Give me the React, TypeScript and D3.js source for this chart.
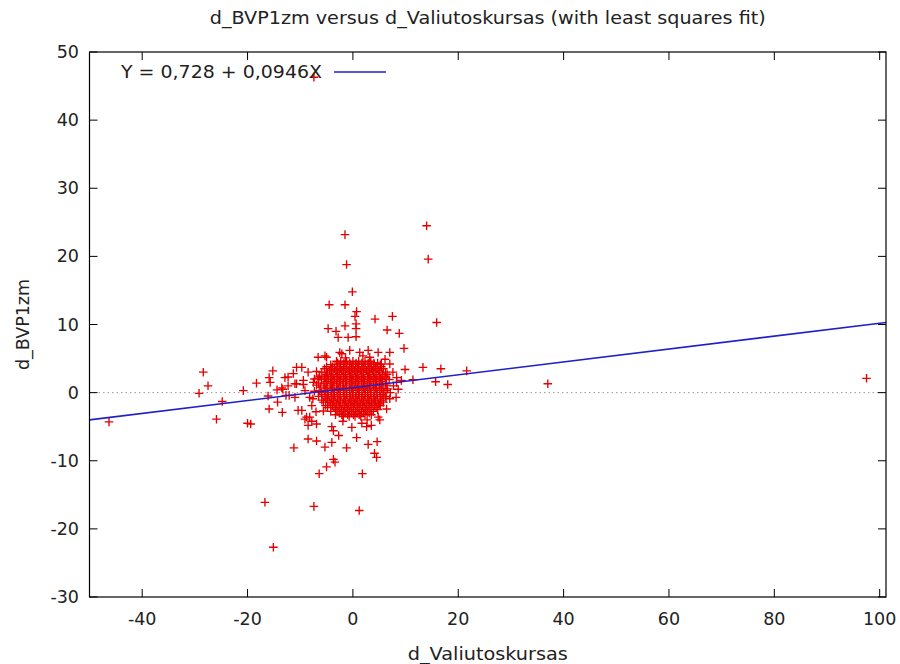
import React from "react";
import * as d3 from "d3";

const title = "d_BVP1zm versus d_Valiutoskursas (with least squares fit)";
const xLabel = "d_Valiutoskursas";
const yLabel = "d_BVP1zm";
const legendText = "Y = 0,728 + 0,0946X";
const fitIntercept = 0.728;
const fitSlope = 0.0946;
const xTicks = [-40, -20, 0, 20, 40, 60, 80, 100];
const yTicks = [-30, -20, -10, 0, 10, 20, 30, 40, 50];
const xDomain = [-50, 101.2];
const yDomain = [-30, 50];

// scattered observations (x, y)
const outerPoints: [number, number][] = [
  [-7.4, 46.3], [-1.5, 23.2], [-1.2, 18.8], [14.0, 24.5], [14.3, 19.6], [-0.1, 14.8],
  [-4.5, 12.9], [-1.5, 12.9], [0.7, 11.9], [0.4, 11.2], [0.6, 10.1], [4.2, 10.8],
  [7.5, 11.2], [15.9, 10.3], [-4.7, 9.4], [-3.2, 9.0], [-1.5, 9.8], [0.6, 9.4],
  [6.5, 9.2], [8.8, 8.7], [-2.8, 8.1], [-0.9, 8.1], [0.6, 8.2], [7.0, 5.9],
  [9.7, 6.5], [9.9, 3.4], [13.3, 3.7], [16.7, 3.5], [21.6, 3.2], [15.7, 1.6],
  [18.0, 1.2], [11.4, 1.9], [8.2, -0.7], [37.0, 1.3], [97.5, 2.1], [-46.3, -4.3],
  [-28.4, 3.0], [-27.5, 1.0], [-29.2, -0.1], [-24.8, -1.3], [-25.9, -3.9], [-20.8, 0.3],
  [-20.0, -4.5], [-18.3, 1.4], [-15.9, 2.2], [-15.7, 1.5], [-15.2, 3.2], [-16.1, -0.5],
  [-15.9, -2.4], [-14.4, 0.4], [-13.4, -2.9], [-14.3, -1.4], [-13.5, 0.7], [-12.3, 2.3],
  [-11.3, 2.8], [-10.7, 3.7], [-12.7, -0.4], [-12.1, -0.4], [-11.2, -8.1], [-10.4, -2.6],
  [-11.0, 1.3], [-16.7, -16.1], [-15.1, -22.7], [-7.4, -16.7], [1.2, -17.3], [-6.4, -11.9],
  [-5.0, -10.9], [-3.7, -9.8], [-3.4, -10.2], [1.8, -11.9], [-1.2, -8.1], [-4.0, -7.3],
  [-8.5, -6.8], [-6.9, -7.1], [2.9, -7.6], [4.6, -7.2], [4.1, -8.9], [4.5, -9.5],
  [0.7, -6.6], [-2.7, -6.3], [-4.0, -5.0], [-8.5, -4.8], [-9.1, -3.9], [-0.2, -5.1],
  [2.6, -5.0], [3.5, -4.8], [5.1, -4.0], [-9.7, -2.6], [-8.2, -3.6], [-5.3, -8.0],
  [-3.7, -5.6], [1.7, -4.5], [4.8, -3.6], [-7.8, -4.2], [-8.8, -3.6], [-6.9, -4.6],
  [-19.4, -4.6], [-9.4, 1.2], [8.3, 1.5], [9.2, 1.8], [4.8, 5.9], [2.9, 6.2],
  [1.3, 5.9], [-0.6, 6.2], [-2.1, 5.7], [-5.3, 5.4], [-6.6, 5.2], [-8.5, 3.0],
  [-9.7, 3.7], [-12.9, 2.2], [-12.3, 1.0], [-10.7, 1.3], [-9.4, 1.8], [-7.5, 1.5],
  [-9.1, 0.3], [-11.0, -0.7], [-8.2, -0.7], [-7.8, -1.9], [-13.3, 0.5], [7.6, 3.0],
  [7.0, 4.2], [8.3, 2.2], [8.6, 0.5], [7.0, -0.9], [5.1, -1.9], [-5.0, 5.2],
  [-2.5, 5.9], [3.2, 5.2], [5.4, 4.2], [-6.9, 3.1], [-7.3, 0.2], [-7.0, -2.8],
  [7.7, 1.0], [-7.3, 2.0], [6.1, 4.9], [-5.6, -2.7], [1.9, 5.4], [-1.4, 5.1],
  [6.4, -2.4], [-7.6, -0.9], [2.7, -4.0], [-1.9, -4.2],
];

// dense central cluster, row by row: [y, x1, x2, ...]
const coreRows: number[][] = [
  [4.6, -3.1, -2.3, -1.2, 0.0, 1.1, 2.3, 3.4],
  [4.35, -2.9, -1.7, -0.6, 0.6, 1.7, 2.9, 4.0, 4.7],
  [4.1, -4.2, -3.0, -1.8, -0.6, 0.5, 1.7, 2.9, 4.0, 5.2],
  [3.8, -5.0, -3.9, -2.6, -1.5, -0.3, 0.9, 2.0, 3.2, 4.3, 5.4],
  [3.5, -5.4, -4.1, -3.5, -2.4, -1.2, 0.0, 1.1, 2.3, 3.5, 4.6, 5.8],
  [3.25, -4.4, -3.2, -2.1, -0.9, 0.3, 1.4, 2.6, 3.7, 4.9],
  [3.0, -5.9, -4.8, -3.0, -1.8, -0.6, 0.6, 1.7, 2.9, 4.0, 5.1, 6.2],
  [2.7, -5.0, -3.8, -2.6, -1.4, -0.2, 0.9, 2.0, 3.2, 4.4, 5.6, 6.5],
  [2.4, -6.3, -5.2, -4.1, -2.9, -1.7, -0.5, 0.5, 1.6, 2.8, 3.9, 5.0, 6.1],
  [2.15, -6.6, -5.4, -4.2, -3.0, -1.8, -0.6, 0.6, 1.7, 2.9, 4.0, 5.2, 6.3],
  [1.9, -6.0, -4.7, -3.5, -2.3, -1.2, 0.0, 1.1, 2.2, 3.4, 4.5, 5.6, 6.9],
  [1.65, -5.0, -3.8, -2.6, -1.4, -0.3, 0.8, 2.0, 3.1, 4.3, 5.4],
  [1.4, -6.5, -5.3, -4.1, -3.0, -1.8, -0.6, 0.5, 1.7, 2.8, 3.9, 5.0, 6.2],
  [1.1, -6.9, -5.5, -4.3, -3.1, -1.9, -0.7, 0.4, 1.6, 2.7, 3.9, 5.1, 6.4],
  [0.8, -6.1, -4.9, -3.6, -2.4, -1.2, 0.0, 1.1, 2.3, 3.4, 4.5, 5.7],
  [0.55, -5.1, -3.9, -2.7, -1.5, -0.3, 0.9, 2.0, 3.1, 4.3, 5.4, 6.6],
  [0.3, -6.4, -5.3, -4.1, -3.0, -1.8, -0.6, 0.6, 1.7, 2.8, 4.0, 5.1, 6.3],
  [0.0, -6.0, -4.8, -3.6, -2.4, -1.2, 0.0, 1.2, 2.3, 3.4, 4.6, 5.9, 7.1],
  [-0.3, -5.9, -4.7, -3.5, -2.4, -1.2, 0.0, 1.1, 2.3, 3.4, 4.6, 5.7],
  [-0.55, -6.5, -5.3, -4.1, -2.9, -1.7, -0.6, 0.5, 1.7, 2.8, 4.0, 5.2, 6.2],
  [-0.8, -5.1, -4.0, -2.9, -1.7, -0.5, 0.6, 1.7, 2.9, 4.0, 5.2, 6.3],
  [-1.1, -5.9, -4.8, -3.7, -2.6, -1.4, -0.2, 0.9, 2.0, 3.2, 4.3, 5.5],
  [-1.4, -5.6, -4.5, -3.4, -2.3, -1.1, 0.1, 1.2, 2.3, 3.5, 4.6, 5.8],
  [-1.65, -4.2, -3.1, -1.9, -0.8, 0.3, 1.5, 2.6, 3.8, 4.9],
  [-1.9, -5.2, -3.9, -2.8, -1.6, -0.5, 0.6, 1.8, 2.9, 4.1, 5.2],
  [-2.2, -4.8, -3.6, -2.5, -1.3, -0.2, 0.9, 2.1, 3.2, 4.4],
  [-2.5, -3.3, -2.2, -1.0, 0.1, 1.2, 2.4, 3.5, 4.7],
  [-2.75, -4.2, -3.0, -1.8, -0.7, 0.5, 1.6, 2.7, 3.9],
  [-3.0, -2.6, -1.5, -0.3, 0.8, 2.0, 3.1],
  [-3.25, -3.3, -2.1, -1.0, 0.1, 1.2, 2.3, 3.5],
  [-3.5, -1.8, -0.7, 0.4, 1.5],
];

const W = 900;
const H = 664;
const M = { left: 89.5, right: 886, top: 52, bottom: 597 };
const FONT = "'DejaVu Sans', sans-serif";
const FS = 17.5;

export default function App() {
  const x = d3.scaleLinear().domain(xDomain).range([M.left, M.right]);
  const y = d3.scaleLinear().domain(yDomain).range([M.bottom, M.top]);

  const corePoints: [number, number][] = [];
  coreRows.forEach((row) => {
    const yy = row[0];
    row.slice(1).forEach((xx) => corePoints.push([xx, yy]));
  });
  const points = [...corePoints, ...outerPoints];

  const fitLine = d3
    .line<number>()
    .x((d) => x(d))
    .y((d) => y(fitIntercept + fitSlope * d));

  const tickLen = 8;
  const s = 4.3;

  return (
    <svg width={W} height={H} style={{ position: "absolute", left: 0, top: 0, background: "#fff" }}>
      <rect x={0} y={0} width={W} height={H} fill="#fff" />
      <text x={(M.left + M.right) / 2} y={24} textAnchor="middle" fontFamily={FONT} fontSize={FS} fill="#222"
        textLength={556} lengthAdjust="spacingAndGlyphs">
        {title}
      </text>
      {/* zero line */}
      <line x1={M.left} x2={M.right} y1={y(0)} y2={y(0)} stroke="#999" strokeWidth={1} strokeDasharray="1.5,3" />
      {/* ticks */}
      {xTicks.map((t) => (
        <g key={"x" + t}>
          <line x1={x(t)} x2={x(t)} y1={M.bottom} y2={M.bottom - tickLen} stroke="#000" />
          <line x1={x(t)} x2={x(t)} y1={M.top} y2={M.top + tickLen} stroke="#000" />
          <text x={x(t)} y={625} textAnchor="middle" fontFamily={FONT} fontSize={FS} fill="#222">
            {t}
          </text>
        </g>
      ))}
      {yTicks.map((t) => (
        <g key={"y" + t}>
          <line x1={M.left} x2={M.left + tickLen} y1={y(t)} y2={y(t)} stroke="#000" />
          <line x1={M.right} x2={M.right - tickLen} y1={y(t)} y2={y(t)} stroke="#000" />
          <text x={79} y={y(t) + 6} textAnchor="end" fontFamily={FONT} fontSize={FS} fill="#222">
            {t}
          </text>
        </g>
      ))}
      {/* points */}
      <g stroke="#e60000" strokeWidth={1.35} fill="none">
        {points.map((p, i) => {
          const px = x(p[0]);
          const py = y(p[1]);
          return <path key={i} d={`M${px - s},${py}H${px + s}M${px},${py - s}V${py + s}`} />;
        })}
      </g>
      {/* fit line */}
      <path d={fitLine(xDomain) || ""} stroke="#2020c8" strokeWidth={1.6} fill="none" />
      {/* frame */}
      <rect x={M.left} y={M.top} width={M.right - M.left} height={M.bottom - M.top} fill="none" stroke="#000" strokeWidth={1.2} />
      {/* legend */}
      <text x={121} y={78} fontFamily={FONT} fontSize={FS} fill="#222" textLength={201} lengthAdjust="spacingAndGlyphs">
        {legendText}
      </text>
      <line x1={334} x2={386} y1={72} y2={72} stroke="#2020c8" strokeWidth={1.6} />
      {/* axis labels */}
      <text x={(M.left + M.right) / 2} y={660} textAnchor="middle" fontFamily={FONT} fontSize={FS} fill="#222"
        textLength={160} lengthAdjust="spacingAndGlyphs">
        {xLabel}
      </text>
      <text
        transform={`translate(29,${(M.top + M.bottom) / 2}) rotate(-90)`}
        textAnchor="middle"
        fontFamily={FONT}
        fontSize={FS}
        fill="#222"
      >
        {yLabel}
      </text>
    </svg>
  );
}
